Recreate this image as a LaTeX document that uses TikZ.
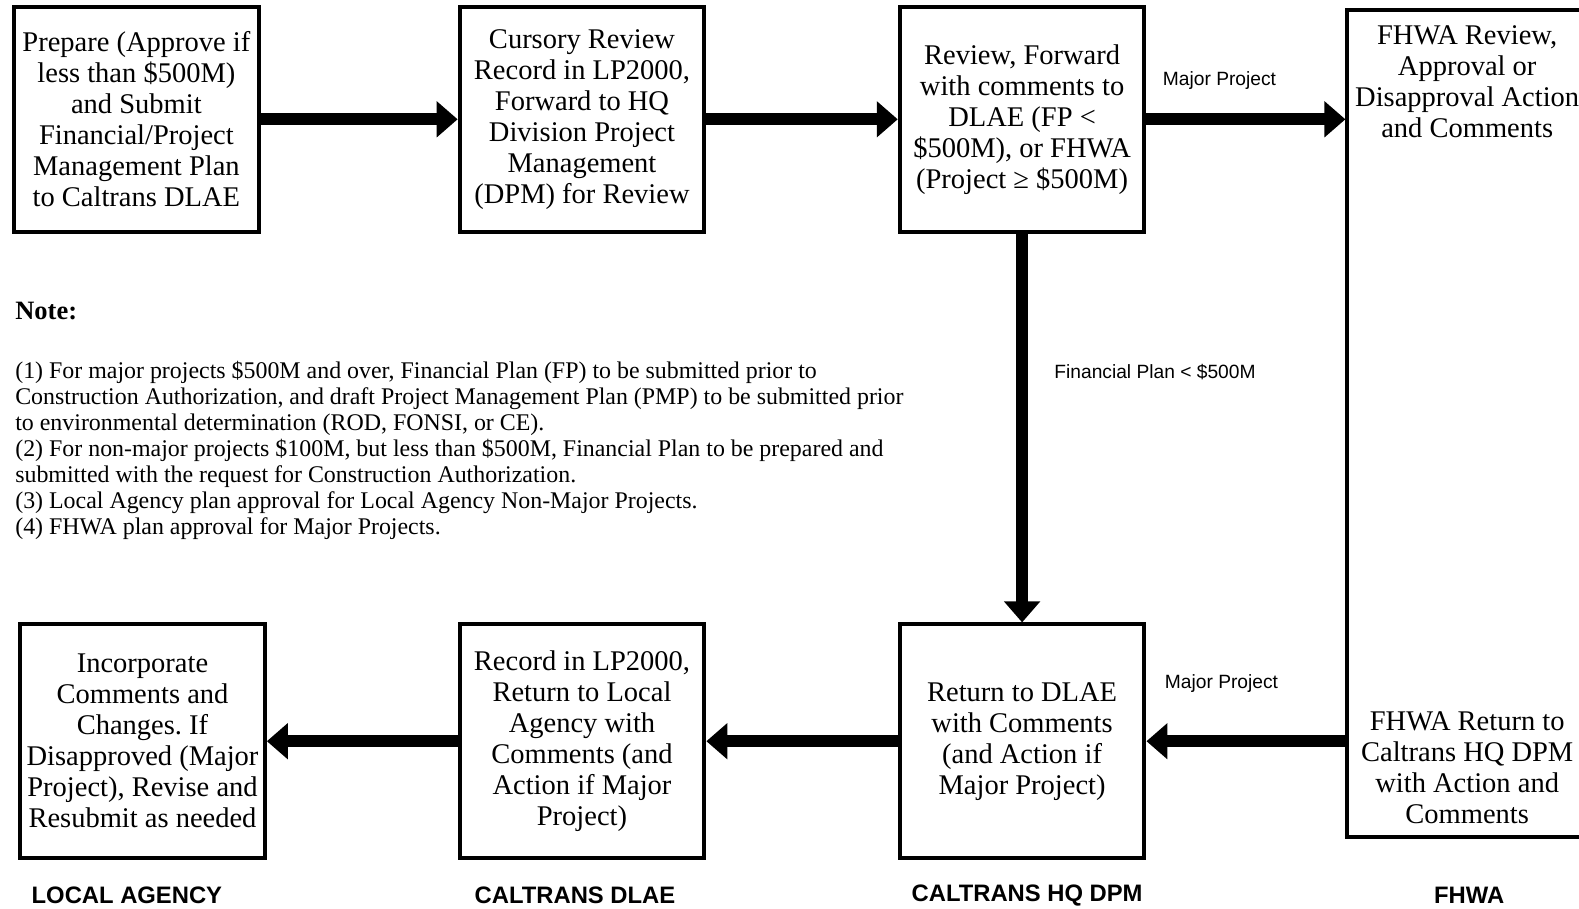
\documentclass[tikz,border=0pt]{standalone}
\usepackage{fontspec}
\setmainfont{Liberation Serif}
\newfontfamily\arial{Liberation Sans}
\usetikzlibrary{arrows.meta}
\frenchspacing
\begin{document}
\begin{tikzpicture}[x=1pt,y=-1pt,
  box/.style={draw,line width=4pt,minimum width=244.7pt,minimum height=224.6pt,inner sep=0pt,align=center,font=\fontsize{28.5}{31}\selectfont},
  lowbox/.style={box,minimum height=233.6pt},
  btext/.style={inner sep=0pt,align=center,font=\fontsize{28.5}{31}\selectfont},
  flow/.style={line width=12pt,-{Triangle[width=35pt,length=21pt]}},
  lbl/.style={inner sep=0pt,font=\arial\fontsize{19.2}{23}\selectfont},
  col/.style={inner sep=0pt,font=\arial\bfseries\fontsize{23.8}{28}\selectfont}]
\useasboundingbox (0,0) rectangle (1579,908);
\clip (0,0) rectangle (1579,908);
% top row
\node[box] (b1) at (136.4,119.3) {Prepare (Approve if\\less than \$500M)\\and Submit\\Financial/Project\\Management Plan\\to Caltrans DLAE};
\node[box] (b2) at (582,119.3) {Cursory Review\\Record in LP2000,\\Forward to HQ\\Division Project\\Management\\(DPM) for Review};
\node[box] (b3) at (1022.1,119.3) {Review, Forward\\with comments to\\DLAE (FP <\\\$500M), or FHWA\\(Project ≥ \$500M)};
% FHWA tall box
\node[draw,line width=4pt,minimum width=262pt,minimum height=826.7pt,inner sep=0pt] (fh) at (1478.4,423.4) {};
\node[btext] (fht) at (1467.2,81.6) {FHWA Review,\\Approval or\\Disapproval Action\\and Comments};
\node[btext] (fhb) at (1467.2,767.3) {FHWA Return to\\Caltrans HQ DPM\\with Action and\\Comments};
% bottom row
\node[lowbox] (b4) at (142.5,741.2) {Incorporate\\Comments and\\Changes. If\\Disapproved (Major\\Project), Revise and\\Resubmit as needed};
\node[lowbox] (b5) at (582,741.2) {Record in LP2000,\\Return to Local\\Agency with\\Comments (and\\Action if Major\\Project)};
\node[lowbox] (b6) at (1022.1,741.2) {Return to DLAE\\with Comments\\(and Action if\\Major Project)};
% arrows
\draw[flow] (b1.east) -- (b2.west);
\draw[flow] (b2.east) -- (b3.west);
\draw[flow] (b3.east) -- (b3.east -| fh.west);
\draw[flow] (b3.south) -- (b6.north);
\draw[flow] (b6.east -| fh.west) -- (b6.east);
\draw[flow] (b6.west) -- (b5.east);
\draw[flow] (b5.west) -- (b4.east);
% labels
\node[lbl] (l1) at (1219.5,80.6) {Major Project};
\node[lbl] (l2) at (1155,371.6) {Financial Plan < \$500M};
\node[lbl] (l3) at (1221.5,683.8) {Major Project};
\node[col] (c1) at (126.9,895.2) {LOCAL AGENCY};
\node[col] (c2) at (575,895.2) {CALTRANS DLAE};
\node[col] (c3) at (1027.1,895.2) {CALTRANS HQ DPM};
\node[col] (c4) at (1469.2,895.2) {FHWA};
% note
\node[anchor=west,inner sep=0pt,font=\bfseries\fontsize{26.5}{30}\selectfont] (nt) at (15.1,311.2) {Note:};
\node[anchor=north west,inner sep=0pt,align=left,font=\fontsize{23.9}{26}\selectfont] (nb) at (15.1,361) {(1) For major projects \$500M and over, Financial Plan (FP) to be submitted prior to\\Construction Authorization, and draft Project Management Plan (PMP) to be submitted prior\\to environmental determination (ROD, FONSI, or CE).\\(2) For non-major projects \$100M, but less than \$500M, Financial Plan to be prepared and\\submitted with the request for Construction Authorization.\\(3) Local Agency plan approval for Local Agency Non-Major Projects.\\(4) FHWA plan approval for Major Projects.};
\end{tikzpicture}
\end{document}
